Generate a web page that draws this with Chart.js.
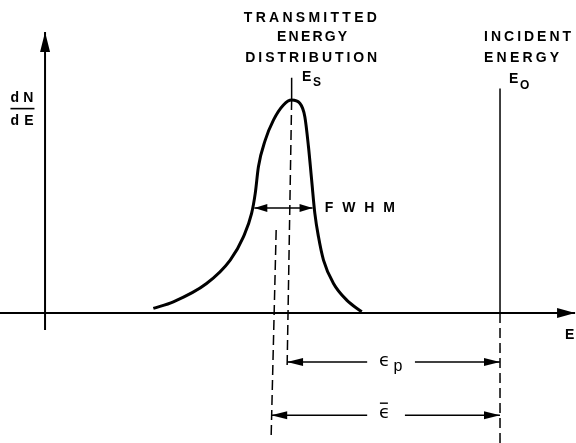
<!DOCTYPE html>
<html>
<head>
<meta charset="utf-8">
<script src="https://cdn.jsdelivr.net/npm/chart.js@4"></script>
<style>
  body { margin: 0; background: #fff; }
  canvas { display: block; }
</style>
</head>
<body>
<canvas id="chart" width="576" height="443"></canvas>
<script>
// transmitted energy distribution, E in units where E0 = 100, dN/dE normalised to peak = 1
const curveE = [23.8, 28.2, 35.5, 40.7, 43.6, 45.4, 46.2, 46.9, 48.4, 50.2, 52.4, 54.2, 56.0, 57.1, 57.9, 58.6, 59.3, 60.1, 61.2, 63.4, 66.3, 69.6];
const curveN = [0.022, 0.053, 0.139, 0.249, 0.358, 0.468, 0.562, 0.687, 0.812, 0.906, 0.977, 1.0, 0.985, 0.922, 0.781, 0.624, 0.468, 0.358, 0.249, 0.139, 0.061, 0.006];

const E0 = 100;        // incident energy
const Es = 54.2;       // most probable transmitted energy
const fwhmLo = 46.0;
const fwhmHi = 58.8;

const xMin = -9.9, xMax = 116.7;
const yMin = -0.61, yMax = 1.47;

const pts = (xs, ys) => xs.map((x, i) => ({ x: x, y: ys[i] }));

function line(data, extra) {
  return Object.assign({
    data: data,
    borderColor: '#000',
    borderWidth: 1.5,
    pointRadius: 0,
    fill: false,
    tension: 0
  }, extra || {});
}

const dash = [10, 5];

// arrowheads at the ends of line datasets, placed from the library's point positions
const arrowPlugin = {
  id: 'arrows',
  afterDatasetsDraw(chart) {
    const ctx = chart.ctx;
    chart.data.datasets.forEach((ds, i) => {
      if (!ds.arrowEnd && !ds.arrowStart) return;
      const p = chart.getDatasetMeta(i).data;
      const len = ds.arrowLen || 14, hw = ds.arrowHalf || 4;
      const head = (a, b) => {
        const ang = Math.atan2(b.y - a.y, b.x - a.x);
        ctx.save();
        ctx.translate(b.x, b.y);
        ctx.rotate(ang);
        ctx.beginPath();
        ctx.moveTo(0, 0);
        ctx.lineTo(-len, -hw);
        ctx.lineTo(-len, hw);
        ctx.closePath();
        ctx.fillStyle = '#000';
        ctx.fill();
        ctx.restore();
      };
      if (ds.arrowEnd) head(p[p.length - 2], p[p.length - 1]);
      if (ds.arrowStart) head(p[1], p[0]);
    });
  }
};

// text labels: left edge x, middle y (data units), font size, spread width
const labels = [
  { t: 'TRANSMITTED', x: 43.7, y: 1.387, s: 14, w: 133 },
  { t: 'ENERGY', x: 51.0, y: 1.296, s: 14, w: 70 },
  { t: 'DISTRIBUTION', x: 44.0, y: 1.197, s: 14, w: 132 },
  { t: 'E', x: 56.5, y: 1.108, s: 14 },
  { t: 'S', x: 58.9, y: 1.08, s: 12 },
  { t: 'INCIDENT', x: 96.5, y: 1.294, s: 14, w: 87 },
  { t: 'ENERGY', x: 96.5, y: 1.195, s: 14, w: 75 },
  { t: 'E', x: 102.0, y: 1.097, s: 14 },
  { t: 'O', x: 104.4, y: 1.068, s: 12 },
  { t: 'FWHM', x: 61.5, y: 0.495, s: 14, w: 70 },
  { t: 'dN', x: -7.6, y: 1.01, s: 14, w: 23 },
  { t: 'dE', x: -7.6, y: 0.9, s: 14, w: 23 },
  { t: 'E', x: 114.3, y: -0.103, s: 14 },
  { t: '\u03f5', x: 73.4, y: -0.228, f: '18px "DejaVu Sans"' },
  { t: 'p', x: 76.6, y: -0.25, f: '16px "Liberation Sans"' },
  { t: '\u03f5', x: 73.4, y: -0.472, f: '18px "DejaVu Sans"' }
];

const textPlugin = {
  id: 'texts',
  afterDraw(chart) {
    const ctx = chart.ctx, xs = chart.scales.x, ys = chart.scales.y;
    ctx.save();
    ctx.fillStyle = '#000';
    ctx.textAlign = 'left';
    ctx.textBaseline = 'middle';
    labels.forEach(l => {
      ctx.font = l.f || ('bold ' + l.s + 'px "Liberation Sans"');
      ctx.letterSpacing = '0px';
      if (l.w) {
        const raw = ctx.measureText(l.t).width;
        ctx.letterSpacing = ((l.w - raw) / (l.t.length - 1)).toFixed(2) + 'px';
      }
      ctx.fillText(l.t, xs.getPixelForValue(l.x), ys.getPixelForValue(l.y));
    });
    ctx.letterSpacing = '0px';
    // fraction bar of dN/dE and bar over mean epsilon
    ctx.fillRect(xs.getPixelForValue(-7.6), ys.getPixelForValue(0.96) - 0.8, 24, 1.6);
    ctx.fillRect(xs.getPixelForValue(73.6), ys.getPixelForValue(-0.423) - 0.7, 8, 1.4);
    ctx.restore();
  }
};

new Chart(document.getElementById('chart'), {
  type: 'line',
  data: {
    datasets: [
      line(pts(curveE, curveN), { borderWidth: 3, cubicInterpolationMode: 'monotone' }),
      line([{ x: 0, y: -0.08 }, { x: 0, y: 1.32 }], { borderWidth: 2, arrowEnd: true, arrowLen: 20, arrowHalf: 5 }),
      line([{ x: xMin, y: 0 }, { x: 116.5, y: 0 }], { borderWidth: 2, arrowEnd: true, arrowLen: 18, arrowHalf: 5 }),
      line([{ x: Es, y: 1.0 }, { x: Es, y: 1.105 }]),
      line([{ x: Es, y: 1.0 }, { x: 53.2, y: -0.26 }], { borderDash: dash }),
      line([{ x: 50.8, y: 0.39 }, { x: 49.7, y: -0.575 }], { borderDash: dash }),
      line([{ x: E0, y: 0 }, { x: E0, y: 1.055 }]),
      line([{ x: E0, y: 0 }, { x: E0, y: yMin }], { borderDash: dash }),
      line([{ x: fwhmLo, y: 0.493 }, { x: fwhmHi, y: 0.493 }], { arrowStart: true, arrowEnd: true, arrowLen: 13, arrowHalf: 4 }),
      line([{ x: 70.8, y: -0.23 }, { x: 53.2, y: -0.23 }], { arrowEnd: true, arrowLen: 16, arrowHalf: 4 }),
      line([{ x: 81.3, y: -0.23 }, { x: E0, y: -0.23 }], { arrowEnd: true, arrowLen: 16, arrowHalf: 4 }),
      line([{ x: 70.8, y: -0.48 }, { x: 49.7, y: -0.48 }], { arrowEnd: true, arrowLen: 16, arrowHalf: 4 }),
      line([{ x: 79.1, y: -0.48 }, { x: E0, y: -0.48 }], { arrowEnd: true, arrowLen: 16, arrowHalf: 4 })
    ]
  },
  options: {
    responsive: false,
    animation: false,
    devicePixelRatio: 1,
    layout: { padding: 0 },
    clip: false,
    plugins: { legend: { display: false }, tooltip: { enabled: false } },
    scales: {
      x: { type: 'linear', min: xMin, max: xMax, display: false },
      y: { type: 'linear', min: yMin, max: yMax, display: false }
    }
  },
  plugins: [arrowPlugin, textPlugin]
});
</script>
</body>
</html>
